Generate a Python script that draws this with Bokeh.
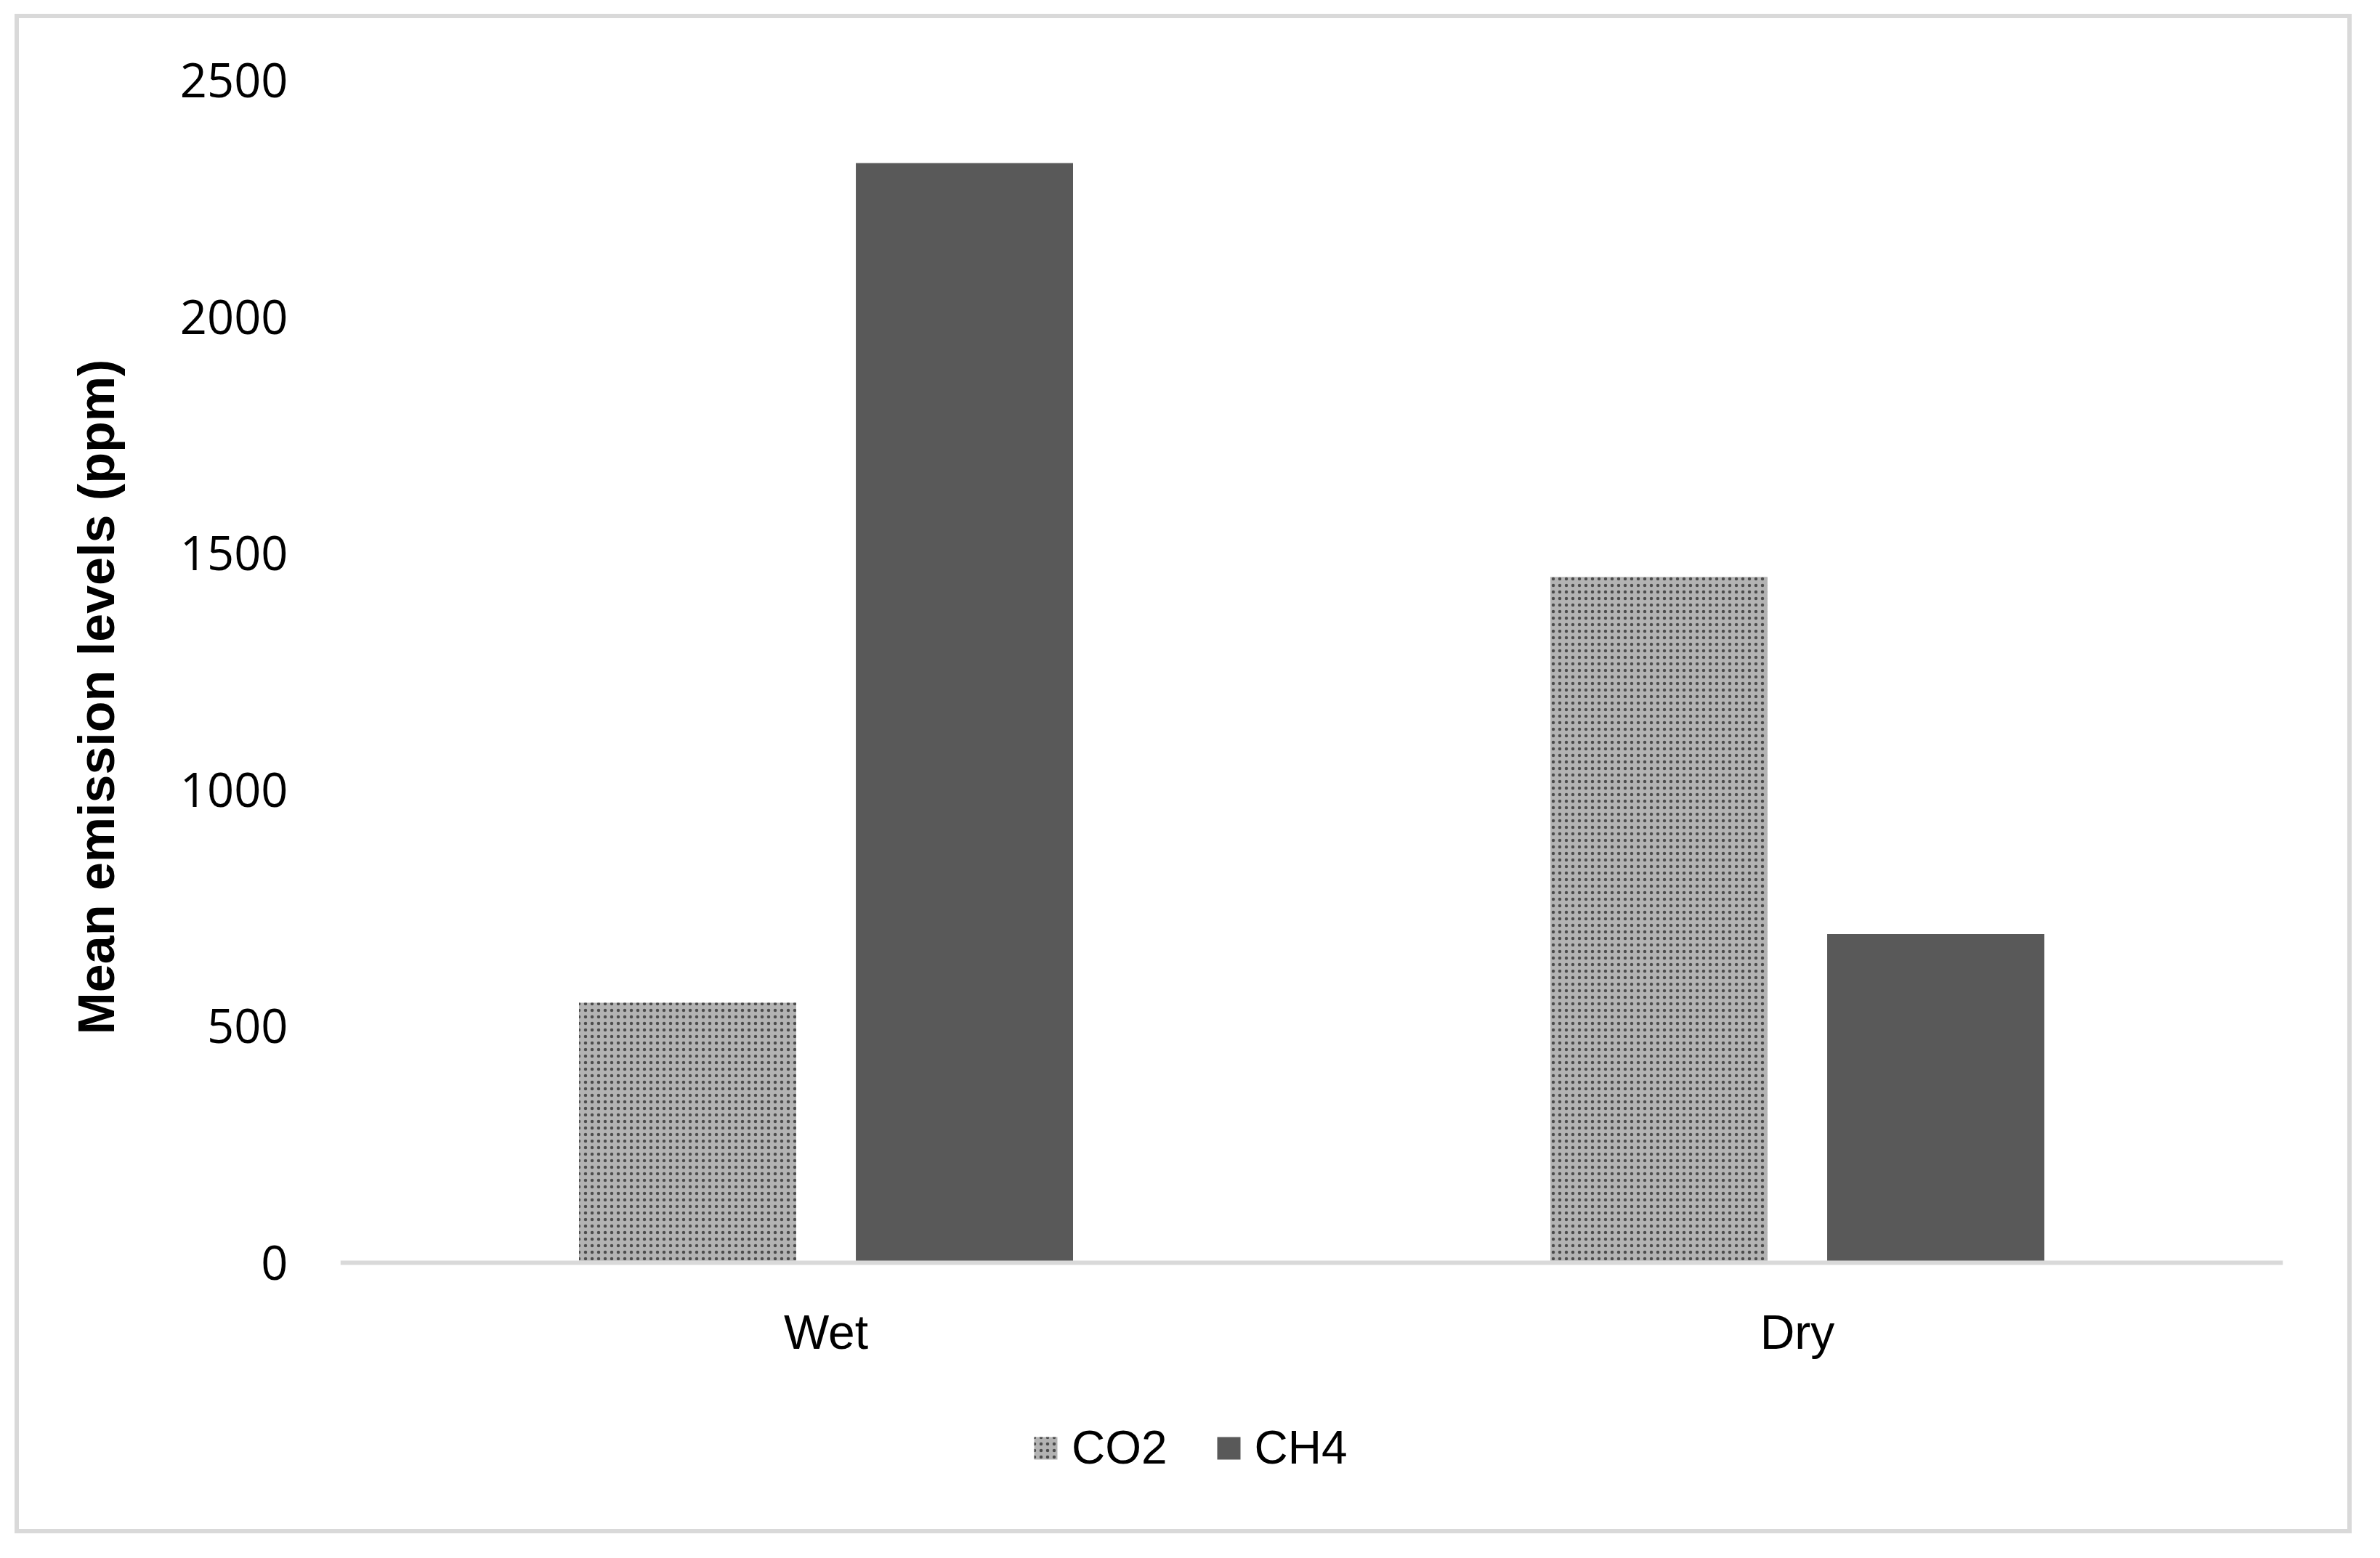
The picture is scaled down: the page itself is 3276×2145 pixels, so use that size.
from bokeh.plotting import figure
from bokeh.models import (ColumnDataSource, FactorRange, FixedTicker, Legend,
                          LegendItem, InlineStyleSheet, Title)
from bokeh.transform import dodge
from bokeh.embed import file_html
from bokeh.resources import INLINE

seasons = ["Wet", "Dry"]
co2 = [550, 1450]
ch4 = [2325, 695]
y_ticks = [0, 500, 1000, 1500, 2000, 2500]
series_names = ["CO2", "CH4"]
y_title = "Mean emission levels  (ppm)"

source = ColumnDataSource(data=dict(season=seasons, co2=co2, ch4=ch4))

SANS = "Liberation Sans"

p = figure(
    x_range=FactorRange(*seasons),
    y_range=(-482, 2500),
    width=3257,
    height=2131,
    output_backend="svg",
    toolbar_location=None,
    min_border_left=468,
    min_border_right=115,
    min_border_top=110,
    min_border_bottom=79,
)
p.stylesheets = [InlineStyleSheet(css="""
:host { position: relative; }
:host::after {
  content: '';
  position: absolute;
  left: 20px; top: 19px; right: 20px; bottom: 20px;
  border: 6px solid #d9d9d9;
  pointer-events: none;
  z-index: 100;
}
""")]
p.outline_line_color = None
p.background_fill_color = "white"
p.border_fill_color = "white"
p.xgrid.visible = False
p.ygrid.visible = False

r_co2 = p.vbar(
    x=dodge("season", -0.1425, range=p.x_range), top="co2", width=0.2236,
    source=source, fill_color="#b3b3b3", line_color=None,
    hatch_pattern=".", hatch_color="#4c4c4c", hatch_scale=9, hatch_weight=3,
)
r_ch4 = p.vbar(
    x=dodge("season", 0.1425, range=p.x_range), top="ch4", width=0.2236,
    source=source, fill_color="#595959", line_color=None,
)

# y axis
p.yaxis.ticker = FixedTicker(ticks=y_ticks)
p.yaxis.axis_line_color = None
p.yaxis.major_tick_line_color = None
p.yaxis.minor_tick_line_color = None
p.yaxis.major_tick_out = 0
p.yaxis.major_tick_in = 0
p.yaxis.major_label_standoff = 72
p.yaxis.major_label_text_font = "Open Sans"
p.yaxis.major_label_text_font_size = "65px"
p.yaxis.major_label_text_color = "black"

p.add_layout(Title(
    text=y_title, align="left", offset=628, vertical_align="bottom",
    standoff=146, text_font=SANS, text_font_style="bold",
    text_font_size="70px", text_color="black",
), "left")

# x axis at y = 0
p.xaxis.fixed_location = 0
p.xaxis.axis_line_color = "#d9d9d9"
p.xaxis.axis_line_width = 6
p.xaxis.major_tick_line_color = None
p.xaxis.minor_tick_line_color = None
p.xaxis.major_tick_out = 0
p.xaxis.major_tick_in = 0
p.xaxis.major_label_standoff = 58
p.xaxis.major_label_text_font = SANS
p.xaxis.major_label_text_font_size = "66px"
p.xaxis.major_label_text_color = "black"

legend = Legend(
    items=[LegendItem(label=series_names[0], renderers=[r_co2]),
           LegendItem(label=series_names[1], renderers=[r_ch4])],
    orientation="horizontal",
    location=(951, 22),
    glyph_width=40,
    glyph_height=39,
    label_standoff=16,
    spacing=64,
    padding=0,
    margin=0,
    border_line_color=None,
    background_fill_alpha=0,
    label_text_font=SANS,
    label_text_font_size="64px",
    label_text_color="black",
)
p.add_layout(legend, "center")

open("out.html", "w").write(file_html(p, INLINE))
